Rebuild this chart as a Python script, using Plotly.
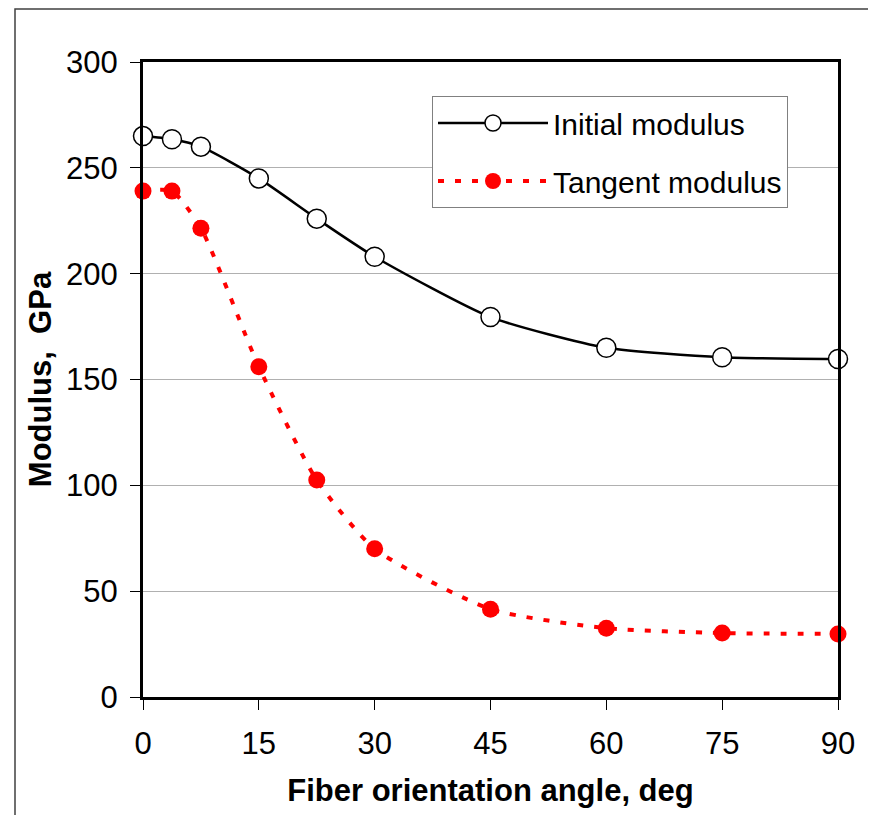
import plotly.graph_objects as go

angles = [0, 3.75, 7.5, 15, 22.5, 30, 45, 60, 75, 90]
initial_modulus = [265, 263.5, 260, 245, 226, 208, 179.5, 165, 160.5, 159.7]
tangent_modulus = [239, 239, 221.5, 156, 102.5, 70, 41.5, 32.5, 30.2, 29.8]
x_ticks = [0, 15, 30, 45, 60, 75, 90]
y_ticks = [0, 50, 100, 150, 200, 250, 300]

FONT = "Liberation Sans, Arial, sans-serif"

# page has an 8px body margin; figure is sized to compensate
W, H = 868, 807
ML, MR, MT, MB = 135, 38, 54, 118
PW, PH = W - ML - MR, H - MT - MB

fig = go.Figure()
fig.add_trace(go.Scatter(
    x=angles, y=initial_modulus, name="Initial modulus", legendgroup="a",
    mode="lines+markers", line=dict(color="black", width=2.5, shape="spline", smoothing=0.6),
    marker=dict(symbol="circle", size=19, color="white", line=dict(color="black", width=1.5)),
    cliponaxis=False,
))
fig.add_trace(go.Scatter(
    x=angles, y=tangent_modulus, name="Tangent modulus", legendgroup="b",
    mode="lines+markers", line=dict(color="#ff0000", width=4, dash="6px,11px", shape="spline", smoothing=0.6),
    marker=dict(symbol="circle", size=17, color="#ff0000", line=dict(width=0)),
    cliponaxis=False,
))

fig.update_layout(
    width=W, height=H,
    margin=dict(l=ML, r=MR, t=MT, b=MB),
    paper_bgcolor="white", plot_bgcolor="white",
    font=dict(family=FONT, color="black", size=30),
    showlegend=True,
    legend=dict(
        x=(432 - 8 - ML) / PW, y=1 - (96 - 8 - MT) / PH, xanchor="left", yanchor="top",
        bgcolor="white", bordercolor="#808080", borderwidth=1,
        font=dict(size=30, family=FONT), tracegroupgap=16, itemwidth=110,
    ),
    xaxis=dict(
        range=[0, 90], tickvals=x_ticks, ticktext=[str(v) for v in x_ticks],
        showgrid=False, zeroline=False,
        showline=True, linecolor="black", linewidth=3, mirror=True,
        ticks="outside", ticklen=10, tickwidth=1, tickcolor="black",
        ticklabelstandoff=7,
        tickfont=dict(size=31, family=FONT),
        title=dict(text="<b>Fiber orientation angle, deg</b>", font=dict(size=31, family=FONT), standoff=20),
    ),
    yaxis=dict(
        range=[0, 300], tickvals=y_ticks, ticktext=[str(v) for v in y_ticks],
        showgrid=True, gridcolor="#b0b0b0", gridwidth=1, zeroline=False,
        showline=True, linecolor="black", linewidth=3, mirror=True,
        ticks="outside", ticklen=10, tickwidth=1, tickcolor="black",
        ticklabelstandoff=6,
        tickfont=dict(size=31, family=FONT),
        title=dict(text="<b>Modulus,  GPa</b>", font=dict(size=31, family=FONT), standoff=6),
    ),
    shapes=[dict(type="rect", xref="paper", yref="paper",
                 x0=(15 - 8 - ML) / PW, x1=(875 - 8 - ML) / PW,
                 y0=-0.3, y1=1 + (MT - 1) / PH,
                 line=dict(color="#404040", width=1.5), fillcolor="rgba(0,0,0,0)", layer="below")],
)

fig.write_html("out.html")
